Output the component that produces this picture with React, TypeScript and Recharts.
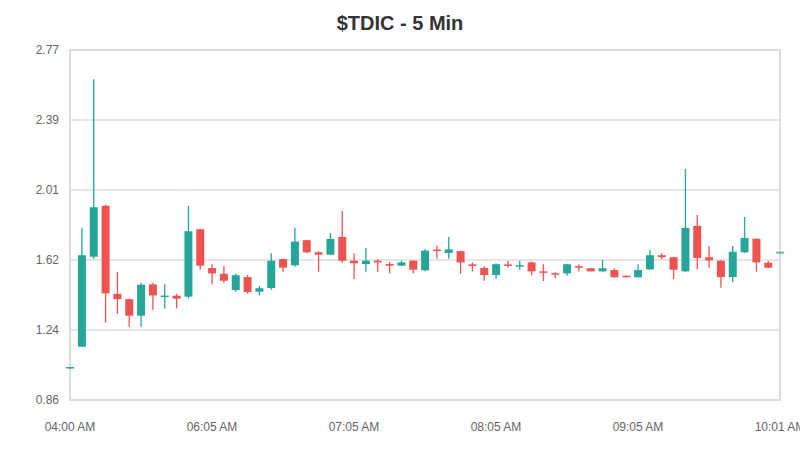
import React from 'react';
import { BarChart, Bar, XAxis, YAxis, CartesianGrid, ReferenceArea } from 'recharts';

// 5-minute candles
const opens = [
  1.04, 1.151, 1.642, 1.92, 1.439, 1.41, 1.32, 1.491, 1.426, 1.429,
  1.424, 1.792, 1.58, 1.549, 1.46, 1.531, 1.451, 1.471, 1.629, 1.595,
  1.732, 1.666, 1.653, 1.75, 1.62, 1.602, 1.62, 1.602, 1.593, 1.62,
  1.568, 1.681, 1.662, 1.672, 1.6, 1.58, 1.542, 1.6, 1.592, 1.611,
  1.562, 1.552, 1.551, 1.59, 1.579, 1.562, 1.569, 1.538, 1.53, 1.573,
  1.65, 1.639, 1.562, 1.81, 1.639, 1.62, 1.531, 1.666, 1.74, 1.609,
  1.664,
];
const highs = [
  1.04, 1.8, 2.61, 1.925, 1.56, 1.412, 1.5, 1.5, 1.491, 1.439,
  1.919, 1.795, 1.601, 1.591, 1.549, 1.542, 1.482, 1.661, 1.632, 1.8,
  1.735, 1.672, 1.771, 1.891, 1.661, 1.69, 1.628, 1.613, 1.62, 1.622,
  1.682, 1.702, 1.75, 1.675, 1.611, 1.59, 1.606, 1.618, 1.62, 1.615,
  1.601, 1.557, 1.603, 1.601, 1.58, 1.624, 1.579, 1.54, 1.601, 1.68,
  1.661, 1.641, 2.121, 1.87, 1.699, 1.622, 1.7, 1.859, 1.742, 1.618,
  1.664,
];
const lows = [
  1.03, 1.151, 1.631, 1.282, 1.331, 1.26, 1.26, 1.351, 1.36, 1.36,
  1.413, 1.571, 1.491, 1.5, 1.451, 1.44, 1.431, 1.462, 1.56, 1.587,
  1.661, 1.56, 1.65, 1.611, 1.52, 1.56, 1.56, 1.551, 1.59, 1.551,
  1.562, 1.631, 1.631, 1.549, 1.562, 1.511, 1.522, 1.582, 1.571, 1.541,
  1.509, 1.524, 1.538, 1.562, 1.561, 1.56, 1.528, 1.529, 1.528, 1.569,
  1.629, 1.52, 1.56, 1.573, 1.582, 1.473, 1.502, 1.662, 1.56, 1.58,
  1.664,
];
const closes = [
  1.04, 1.65, 1.912, 1.442, 1.41, 1.32, 1.489, 1.431, 1.43, 1.413,
  1.781, 1.593, 1.551, 1.511, 1.541, 1.449, 1.47, 1.62, 1.582, 1.724,
  1.666, 1.653, 1.739, 1.62, 1.606, 1.62, 1.611, 1.593, 1.611, 1.571,
  1.675, 1.677, 1.682, 1.611, 1.595, 1.542, 1.601, 1.597, 1.596, 1.562,
  1.558, 1.549, 1.601, 1.586, 1.562, 1.579, 1.53, 1.53, 1.569, 1.65,
  1.64, 1.571, 1.799, 1.635, 1.622, 1.531, 1.669, 1.744, 1.611, 1.582,
  1.664,
];

const tickIdx = [0, 12, 24, 36, 48, 60];
const tickLabels = ['04:00 AM', '06:05 AM', '07:05 AM', '08:05 AM', '09:05 AM', '10:01 AM'];
const priceTicks = [0.86, 1.242, 1.624, 2.006, 2.388, 2.77];

const UP = '#26a69a';
const DOWN = '#ef5350';

const data = opens.map((o, i) => ({
  i,
  open: o,
  high: highs[i],
  low: lows[i],
  close: closes[i],
}));

const Candle = (props: any) => {
  const { x, y, width, height, payload } = props;
  if (x == null || y == null) return null;
  const { open, close, high, low } = payload;
  const color = close >= open ? UP : DOWN;
  const top = Math.min(y, y + height);
  const h = Math.abs(height);
  const cx = x + width / 2;
  if (high === low) {
    return <rect x={x} y={top - 1} width={width} height={2} fill={color} fillOpacity={0.7} />;
  }
  const ppu = h / (high - low);
  const yOpen = top + (high - open) * ppu;
  const yClose = top + (high - close) * ppu;
  const bodyTop = Math.min(yOpen, yClose);
  const bodyH = Math.max(Math.abs(yOpen - yClose), 1.5);
  return (
    <g>
      <line x1={cx} x2={cx} y1={top} y2={top + h} stroke={color} strokeWidth={1.3} />
      <rect x={x} y={bodyTop} width={width} height={bodyH} fill={color} />
    </g>
  );
};

export default function App() {
  return (
    <div style={{ position: 'absolute', left: 0, top: 0, width: 800, height: 450, background: '#fff', fontFamily: '"Liberation Sans", Arial, sans-serif' }}>
      <div style={{ position: 'absolute', left: 0, top: 12, width: 800, textAlign: 'center', fontSize: 20, fontWeight: 'bold', color: '#333' }}>
        $TDIC - 5 Min
      </div>
      <BarChart width={800} height={450} data={data} margin={{ top: 50, right: 20, bottom: 20, left: 0 }}>
        <CartesianGrid vertical={false} stroke="#e6e6e6" strokeWidth={2} />
        <ReferenceArea x1={0} x2={60} y1={0.86} y2={2.77} fill="none" stroke="#dddddd" strokeWidth={2} />
        <XAxis
          dataKey="i"
          type="number"
          domain={[0, 60]}
          ticks={tickIdx}
          tickFormatter={(v: number) => tickLabels[tickIdx.indexOf(v)]}
          axisLine={false}
          tickLine={false}
          tickMargin={16}
          height={30}
          tick={{ fontSize: 12, fill: '#666' }}
          interval={0}
        />
        <YAxis
          width={70}
          domain={[0.86, 2.77]}
          ticks={priceTicks}
          tickFormatter={(v: number) => v.toFixed(2)}
          axisLine={false}
          tickLine={false}
          tickMargin={5}
          tick={{ fontSize: 12, fill: '#666' }}
          allowDataOverflow
        />
        <Bar dataKey={(d: any) => [d.low, d.high]} barSize={8} shape={Candle} isAnimationActive={false} />
      </BarChart>
    </div>
  );
}
